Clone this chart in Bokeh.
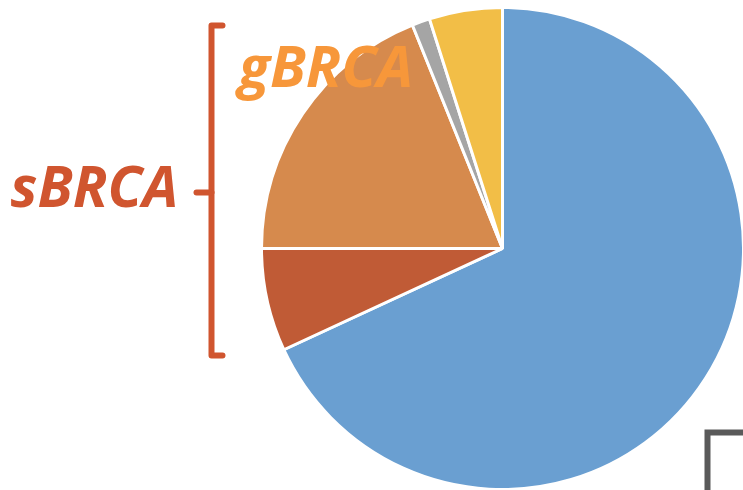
import numpy as np
from bokeh.plotting import figure
from bokeh.models import Range1d, ColumnDataSource
from bokeh.core.properties import value
from bokeh.embed import file_html
from bokeh.resources import INLINE

W, H = 743, 490

# data (share of cases, %)
categories = ["Non-BRCA", "sBRCA", "gBRCA", "Other", "Unknown"]
shares = [68.1, 6.9, 18.9, 1.2, 4.9]
colors = ["#6A9FD1", "#C05B36", "#D68A4D", "#A5A5A5", "#F2BE47"]

frac = np.array(shares) / sum(shares)
cum = np.concatenate([[0], np.cumsum(frac)])
start = np.pi / 2 - 2 * np.pi * cum[:-1]
end = np.pi / 2 - 2 * np.pi * cum[1:]
src = ColumnDataSource(dict(cat=categories, start=start, end=end, color=colors))

p = figure(width=W, height=H, output_backend="svg", toolbar_location=None,
           x_range=Range1d(0, W), y_range=Range1d(0, H), min_border=0)
p.axis.visible = False
p.grid.visible = False
p.outline_line_color = None
p.background_fill_color = "white"

cx, cy, r = 502, H - 248, 241
p.wedge(x=cx, y=cy, radius=r, start_angle="start", end_angle="end", direction="clock",
        fill_color="color", line_color="white", line_width=3, source=src)

# bracket for sBRCA
bc = "#D0552F"
p.line([222, 211, 211, 222], [H - 25, H - 25, H - 355, H - 355], line_color=bc,
       line_width=6, line_join="round", line_cap="round")
p.line([211, 196], [H - 192, H - 192], line_color=bc, line_width=6, line_cap="round")

p.text(x=[10], y=[H - 184], text=["sBRCA"], text_color=bc, text_font=value("Open Sans"),
       text_font_style="bold italic", text_font_size="57px", text_baseline="alphabetic")
p.text(x=[238], y=[H - 64], text=["gBRCA"], text_color="#F7973A", text_font=value("Open Sans"),
       text_font_style="bold italic", text_font_size="58px", text_baseline="alphabetic")

# corner of a box at bottom right
p.line([707, 707, 750], [-5, H - 432, H - 432], line_color="#5A5A5A", line_width=6,
       line_join="miter")

open("out.html", "w").write(file_html(p, INLINE))
